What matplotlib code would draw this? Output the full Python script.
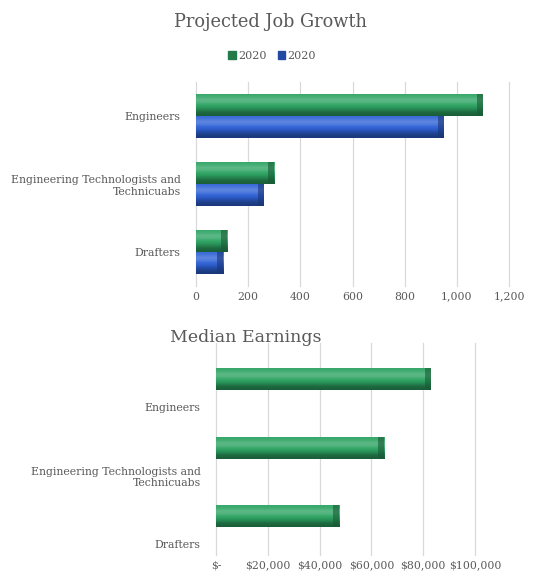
import matplotlib
matplotlib.use("Agg")
import matplotlib.pyplot as plt
import numpy as np
from matplotlib.colors import to_rgb
from matplotlib.ticker import FuncFormatter
from matplotlib.patches import Patch

plt.rcParams['font.family'] = ['DejaVu Serif', 'Liberation Serif']

categories = ["Engineers", "Engineering Technologists and\nTechnicuabs", "Drafters"]
growth_green = [1100, 300, 120]
growth_blue = [950, 260, 105]
series_labels = ["2020", "2020"]
earnings = [83000, 65000, 47500]
growth_ticks = [0, 200, 400, 600, 800, 1000, 1200]
earn_ticks = [0, 20000, 40000, 60000, 80000, 100000]

GREEN = "#2ea463"
BLUE = "#2f62d6"
TXT = "#595959"
GRID = "#d9d9d9"

fig = plt.figure(figsize=(5.35, 5.76), dpi=100)


def shade(c, f):
    r = np.array(to_rgb(c))
    if f >= 0:
        return r + (1 - r) * f
    return r * (1 + f)


def bevel(ax, bars, color):
    prof = np.array([0.05, 0.12, 0.22, 0.18, 0.05, -0.05, -0.2, -0.35, -0.42])
    img = np.array([shade(color, f) for f in prof])[:, None, :]
    fig.canvas.draw()
    px_per_x = ax.transData.transform((1, 0))[0] - ax.transData.transform((0, 0))[0]
    endw = 6 / px_per_x
    for b in bars:
        x0, y0 = b.get_x(), b.get_y()
        w, h = b.get_width(), b.get_height()
        im = ax.imshow(img, extent=(x0, x0 + w, y0 + h, y0), aspect='auto',
                       interpolation='bilinear', zorder=3)
        im.set_clip_path(b)
        ew = min(endw, w * 0.4)
        ax.barh(y0 + h / 2, ew, left=x0 + w - ew, height=h,
                color=shade(color, -0.45), zorder=4, alpha=0.6)


def style(ax):
    for s in ax.spines.values():
        s.set_visible(False)
    ax.tick_params(axis='both', length=0, colors=TXT, labelsize=7.8)
    ax.grid(axis='x', color=GRID, linewidth=0.9, zorder=0, clip_on=False)
    ax.set_axisbelow(True)


# ---- top chart
ax1 = fig.add_axes([196 / 535, 1 - 286 / 576, 313 / 535, 204 / 576])
y = np.arange(len(categories))
h = 0.33
b1 = ax1.barh(y - h / 2, growth_green, height=h, color=GREEN, zorder=2, label=series_labels[0])
b2 = ax1.barh(y + h / 2, growth_blue, height=h, color=BLUE, zorder=2, label=series_labels[1])
ax1.set_xlim(0, 1200)
ax1.set_ylim(2.5, -0.5)
ax1.set_xticks(growth_ticks)
ax1.xaxis.set_major_formatter(FuncFormatter(lambda v, p: f"{int(v):,}"))
ax1.set_yticks(y)
ax1.set_yticklabels(categories)
style(ax1)
ax1.tick_params(axis='y', pad=11)
ax1.tick_params(axis='x', pad=4, labelsize=7.8)
bevel(ax1, b1, GREEN)
bevel(ax1, b2, BLUE)
ax1.set_xlim(0, 1200)
ax1.set_ylim(2.5, -0.5)
fig.text(270 / 535, 1 - 22 / 576, "Projected Job Growth", ha='center', va='center',
         fontsize=12.8, color=TXT)
handles = [Patch(color=shade(GREEN, -0.25)), Patch(color=shade(BLUE, -0.25))]
fig.legend(handles, series_labels, loc='center', bbox_to_anchor=(272 / 535, 1 - 56 / 576),
           ncol=2, frameon=False, fontsize=8, handlelength=0.7, handleheight=0.7,
           handletextpad=0.2, columnspacing=1.0, labelcolor=TXT)

# ---- bottom chart
ax2 = fig.add_axes([216 / 535, 1 - 555 / 576, 259 / 535, 212 / 576])
off = 0.41
b3 = ax2.barh(y - off, earnings, height=0.32, color=GREEN, zorder=2)
ax2.set_xlim(0, 100000)
ax2.set_ylim(2.16, -0.94)
ax2.set_xticks(earn_ticks)
ax2.xaxis.set_major_formatter(FuncFormatter(lambda v, p: "$-" if v == 0 else f"${int(v):,}"))
ax2.set_yticks(y)
ax2.set_yticklabels(categories)
style(ax2)
ax2.tick_params(axis='y', pad=11)
ax2.tick_params(axis='x', pad=4, labelsize=7.8)
bevel(ax2, b3, GREEN)
ax2.set_xlim(0, 100000)
ax2.set_ylim(2.16, -0.94)
fig.text(246 / 535, 1 - 337 / 576, "Median Earnings", ha='center', va='center',
         fontsize=12.5, color=TXT)

fig.savefig("out.png", dpi=100)
